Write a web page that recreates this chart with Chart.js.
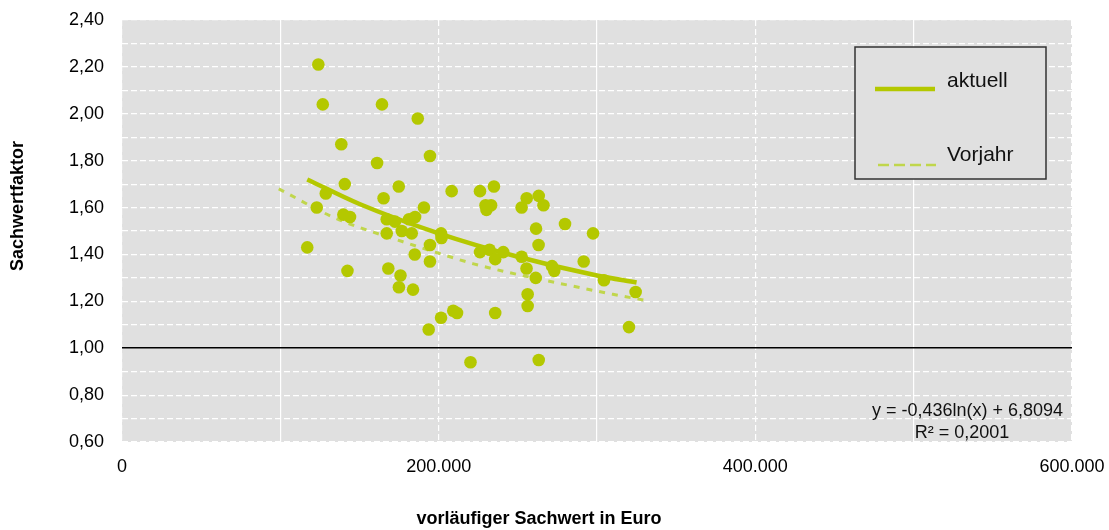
<!DOCTYPE html>
<html><head><meta charset="utf-8">
<script src="https://cdn.jsdelivr.net/npm/chart.js@4.4.0/dist/chart.umd.min.js"></script>
<style>html,body{margin:0;padding:0;background:#fff;overflow:hidden}#wrap{width:1109px;height:530px}</style>
</head><body><div id="wrap"><canvas id="c" width="1109" height="530"></canvas></div>
<script>
// Scatter points: vorläufiger Sachwert (Euro) and Sachwertfaktor
const sachwert = [117000,124000,123000,126800,128700,138500,140700,139800,144000,142400,
  161100,164200,165200,167200,172400,167200,168200,174800,176700,175900,
  174900,181300,185100,183000,184900,183800,186800,190700,194500,194500,
  194500,193700,201500,201800,201500,208200,209200,211600,220100,226100,
  226100,229600,230200,233100,234900,232100,235700,235700,240800,252400,
  252400,255600,255500,256200,256200,261500,261300,263100,263200,263200,
  266200,271600,273000,279800,291600,297500,304400,320200,324400];
const faktor = [1.43,2.21,1.60,2.04,1.66,1.87,1.70,1.57,1.56,1.33,
  1.79,2.04,1.64,1.55,1.54,1.49,1.34,1.69,1.50,1.31,
  1.26,1.55,1.56,1.49,1.40,1.25,1.98,1.60,1.82,1.44,
  1.37,1.08,1.49,1.47,1.13,1.67,1.16,1.15,0.94,1.67,
  1.41,1.61,1.59,1.61,1.69,1.42,1.38,1.15,1.41,1.39,
  1.60,1.64,1.34,1.23,1.18,1.51,1.30,1.44,1.65,0.95,
  1.61,1.35,1.33,1.53,1.37,1.49,1.29,1.09,1.24];

// Trend "aktuell"
const aktuellX = [117000,150000,200000,250000,300000,325000];
const aktuellY = [1.72,1.615,1.49,1.39,1.31,1.28];
// Trend "Vorjahr"
const vorjahrX = [99000,133000,150000,177000,200000,222000,243000,281000,310000,330000];
const vorjahrY = [1.68,1.56,1.515,1.455,1.405,1.36,1.325,1.27,1.23,1.205];

const xTickValues = [0,200000,400000,600000];
const xTickLabels = ['0','200.000','400.000','600.000'];
const yTickLabels = ['0,60','0,80','1,00','1,20','1,40','1,60','1,80','2,00','2,20','2,40'];
const legendLabels = ['aktuell','Vorjahr'];
const equationText = 'y = -0,436ln(x) + 6,8094';
const r2Text = 'R² = 0,2001';
const xTitle = 'vorläufiger Sachwert in Euro';
const yTitle = 'Sachwertfaktor';

const GREEN = '#b4c800';
const LIGHT = '#c0d64c';
const FONT = '"Liberation Sans", Arial, sans-serif';

const toXY = (xs, ys) => xs.map((x, i) => ({x, y: ys[i]}));

const decor = {
  id: 'decor',
  beforeDraw(chart) {
    const {ctx, chartArea: a} = chart;
    ctx.save();
    ctx.fillStyle = '#e0e0e0';
    ctx.fillRect(a.left, a.top, a.right - a.left, a.bottom - a.top);
    ctx.restore();
  },
  afterDraw(chart) {
    const {ctx} = chart;
    ctx.save();
    // legend box
    ctx.fillStyle = '#e0e0e0';
    ctx.fillRect(855, 47, 191, 132);
    ctx.strokeStyle = '#333';
    ctx.lineWidth = 1.5;
    ctx.strokeRect(855, 47, 191, 132);
    ctx.strokeStyle = GREEN; ctx.lineWidth = 4.5;
    ctx.beginPath(); ctx.moveTo(875, 89); ctx.lineTo(935, 89); ctx.stroke();
    ctx.strokeStyle = LIGHT; ctx.lineWidth = 2.5; ctx.setLineDash([11, 5]);
    ctx.beginPath(); ctx.moveTo(878, 165); ctx.lineTo(936, 165); ctx.stroke();
    ctx.setLineDash([]);
    ctx.fillStyle = '#111';
    ctx.font = '21px ' + FONT;
    ctx.textAlign = 'left'; ctx.textBaseline = 'alphabetic';
    ctx.fillText(legendLabels[0], 947, 87);
    ctx.fillText(legendLabels[1], 947, 161);
    // equation
    ctx.font = '18px ' + FONT;
    ctx.textBaseline = 'middle';
    ctx.textAlign = 'right';
    ctx.fillText(equationText, 1063, 411);
    ctx.textAlign = 'center';
    ctx.fillText(r2Text, 962, 433);
    // axis titles
    ctx.fillStyle = '#000';
    ctx.font = 'bold 18px ' + FONT;
    ctx.textAlign = 'center';
    ctx.fillText(xTitle, 539, 519);
    ctx.translate(18, 206);
    ctx.rotate(-Math.PI / 2);
    ctx.fillText(yTitle, 0, 0);
    ctx.restore();
  }
};

new Chart(document.getElementById('c'), {
  type: 'scatter',
  data: {
    datasets: [
      {label: 'Sachwertfaktor', data: toXY(sachwert, faktor), backgroundColor: GREEN, borderColor: GREEN,
       pointRadius: 6.3, pointBorderWidth: 0, showLine: false, order: 1},
      {label: legendLabels[0], data: toXY(aktuellX, aktuellY), showLine: true, borderColor: GREEN,
       borderWidth: 4.5, pointRadius: 0, tension: 0.4, cubicInterpolationMode: 'monotone', order: 2},
      {label: legendLabels[1], data: toXY(vorjahrX, vorjahrY), showLine: true, borderColor: LIGHT,
       borderWidth: 3, borderDash: [6, 7], pointRadius: 0, tension: 0.4, cubicInterpolationMode: 'monotone', order: 3}
    ]
  },
  options: {
    responsive: false, animation: false, devicePixelRatio: 1,
    layout: {padding: {left: 0, right: 37, top: 20, bottom: 0}},
    plugins: {legend: {display: false}, tooltip: {enabled: false}},
    scales: {
      x: {
        type: 'linear', min: 0, max: 600000,
        afterFit: s => { s.height = 88; s.paddingLeft = 0; s.paddingRight = 0; },
        ticks: {stepSize: 100000, autoSkip: false, maxRotation: 0, padding: 14, color: '#000',
          font: {family: FONT, size: 18},
          callback: v => { const i = xTickValues.indexOf(v); return i >= 0 ? xTickLabels[i] : ''; }},
        grid: {color: '#ffffff', lineWidth: 1.2, drawTicks: false},
        border: {display: false, dash: ctx => (ctx.tick && ctx.tick.value % 200000 === 0) ? [6, 3] : []}
      },
      y: {
        min: 0.6, max: 2.4,
        afterFit: s => { s.width = 122; s.paddingTop = 0; s.paddingBottom = 0; },
        ticks: {stepSize: 0.1, autoSkip: false, padding: 18, color: '#000',
          font: {family: FONT, size: 18},
          callback: v => { const k = Math.round(v * 10); return k % 2 === 0 ? yTickLabels[(k - 6) / 2] : ''; }},
        grid: {drawTicks: false,
          color: ctx => (ctx.tick && Math.abs(ctx.tick.value - 1) < 1e-6) ? '#000' : '#ffffff',
          lineWidth: ctx => (ctx.tick && Math.abs(ctx.tick.value - 1) < 1e-6) ? 1.5 : 1.2},
        border: {display: false, dash: ctx => (ctx.tick && Math.abs(ctx.tick.value - 1) < 1e-6) ? [] : [6, 3]}
      }
    }
  },
  plugins: [decor]
});
</script>
</body></html>
